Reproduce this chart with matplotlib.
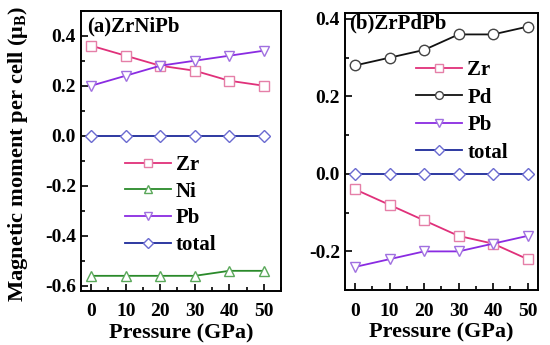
import matplotlib
matplotlib.use('Agg')
import matplotlib.pyplot as plt
from matplotlib.ticker import MultipleLocator, FormatStrFormatter

plt.rcParams['font.family'] = 'Liberation Serif'
plt.rcParams['font.weight'] = 'bold'
plt.rcParams['mathtext.fontset'] = 'custom'
plt.rcParams['mathtext.rm'] = 'Liberation Serif:bold'
plt.rcParams['mathtext.it'] = 'Liberation Serif:bold'

pressure = [0, 10, 20, 30, 40, 50]

# (a) ZrNiPb
a_zr = [0.36, 0.32, 0.28, 0.26, 0.22, 0.20]
a_ni = [-0.56, -0.56, -0.56, -0.56, -0.54, -0.54]
a_pb = [0.20, 0.24, 0.28, 0.30, 0.32, 0.34]
a_total = [0, 0, 0, 0, 0, 0]

# (b) ZrPdPb
b_zr = [-0.04, -0.08, -0.12, -0.16, -0.18, -0.22]
b_pd = [0.28, 0.30, 0.32, 0.36, 0.36, 0.38]
b_pb = [-0.24, -0.22, -0.20, -0.20, -0.18, -0.16]
b_total = [0, 0, 0, 0, 0, 0]

# line color, marker edge color, marker
sty = {
    'Zr': ('#e0307a', '#e57fa8', 's'),
    'Ni': ('#2a8a2a', '#5aa85a', '^'),
    'Pd': ('#111111', '#444444', 'o'),
    'Pb': ('#8a2be2', '#a070e0', 'v'),
    'total': ('#1c2a9a', '#6a6ad0', 'D'),
}

def draw(ax, name, y, ms=7.5):
    lc, mc, mk = sty[name]
    if mk == 'D':
        ms = ms - 1
    ax.plot(pressure, y, color=lc, lw=1.3, marker=mk, markersize=ms,
            markerfacecolor='white', markeredgecolor=mc, markeredgewidth=1.0,
            label=name)

def style(ax):
    ax.tick_params(which='both', direction='in', labelsize=14, width=1.2)
    ax.tick_params(which='major', length=5)
    ax.tick_params(which='minor', length=3)
    ax.tick_params(axis='x', pad=9)
    ax.xaxis.set_major_locator(MultipleLocator(10))
    ax.xaxis.set_minor_locator(MultipleLocator(5))
    ax.yaxis.set_major_locator(MultipleLocator(0.2))
    ax.yaxis.set_minor_locator(MultipleLocator(0.1))
    ax.yaxis.set_major_formatter(FormatStrFormatter('%.1f'))
    for s in ax.spines.values():
        s.set_linewidth(1.4)
    ax.set_xlabel('Pressure (GPa)', fontsize=16, fontweight='bold', labelpad=2)

fig = plt.figure(figsize=(5.5, 3.45), dpi=100)
ax1 = fig.add_axes([0.147, 0.157, 0.364, 0.812])
ax2 = fig.add_axes([0.627, 0.159, 0.351, 0.803])

draw(ax1, 'Zr', a_zr)
draw(ax1, 'Ni', a_ni)
draw(ax1, 'Pb', a_pb)
draw(ax1, 'total', a_total)
ax1.set_xlim(-3, 55)
ax1.set_ylim(-0.62, 0.5)
style(ax1)
ax1.set_ylabel(r'Magnetic moment per cell ($\mu_\mathrm{B}$)', fontsize=16.2,
               fontweight='bold')
ax1.yaxis.set_label_coords(-0.255, 0.49)
ax1.text(0.03, 0.98, '(a)ZrNiPb', transform=ax1.transAxes, fontsize=15,
         fontweight='bold', va='top', ha='left')
ax1.legend(loc='upper left', bbox_to_anchor=(0.22, 0.485), frameon=False,
           fontsize=15, handlelength=2.2, labelspacing=0.32, handletextpad=0.25,
           markerscale=0.75, borderaxespad=0, borderpad=0)

draw(ax2, 'Zr', b_zr)
draw(ax2, 'Pd', b_pd)
draw(ax2, 'Pb', b_pb)
draw(ax2, 'total', b_total)
ax2.set_xlim(-3, 53)
ax2.set_ylim(-0.30, 0.415)
style(ax2)
ax2.text(0.02, 1.0, '(b)ZrPdPb', transform=ax2.transAxes, fontsize=15,
         fontweight='bold', va='top', ha='left')
ax2.legend(loc='upper left', bbox_to_anchor=(0.37, 0.83), frameon=False,
           fontsize=15, handlelength=2.2, labelspacing=0.36, handletextpad=0.25,
           markerscale=0.75, borderaxespad=0, borderpad=0)

fig.savefig('out.png', dpi=100)
